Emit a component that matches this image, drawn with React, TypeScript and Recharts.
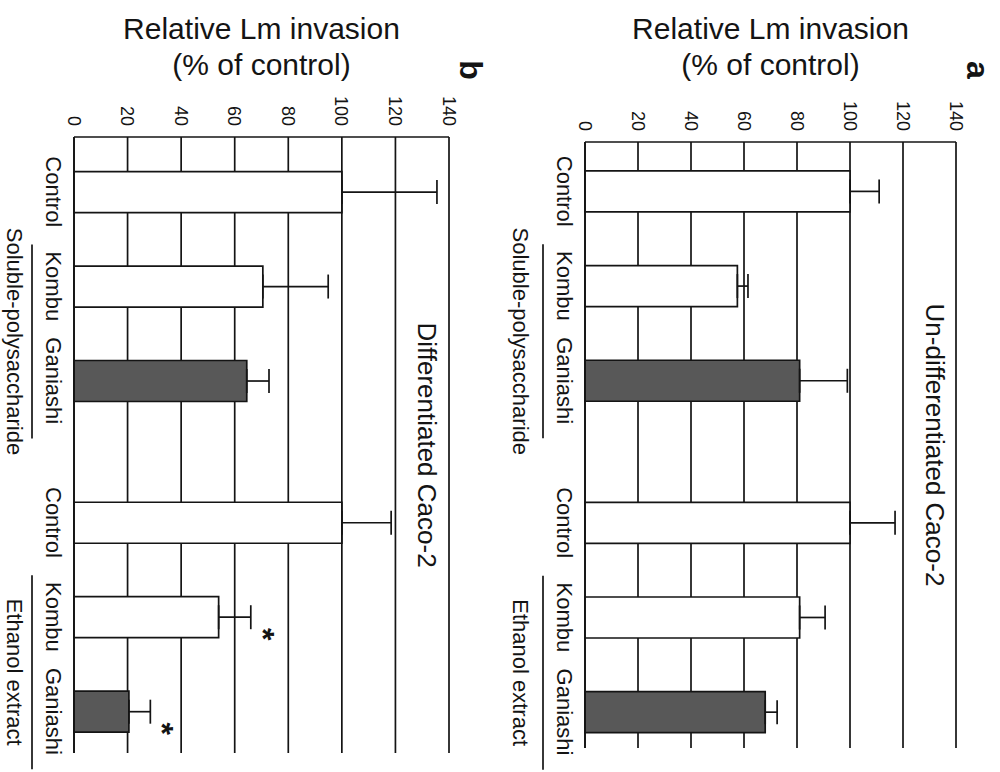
import React from 'react';
import {
  BarChart,
  Bar,
  XAxis,
  YAxis,
  CartesianGrid,
  ErrorBar,
  Cell,
  LabelList,
  ReferenceLine,
} from 'recharts';

const groups = ['Soluble-polysaccharide', 'Ethanol extract'];
const treatments = ['Control', 'Kombu', 'Ganiashi'];

// values (% of control), one per bar, left to right
const undiffMeans = [100, 57.5, 81, 100, 81, 68];
const undiffErrors = [11, 4, 18, 17, 9.6, 4.5];
const undiffSig = ['', '', '', '', '', ''];

const diffMeans = [100, 70.5, 64.5, 100, 54, 20.5];
const diffErrors = [35.5, 24.4, 8.3, 18.4, 12, 8];
const diffSig = ['', '', '', '', '*', '*'];

const valueTicks = [0, 20, 40, 60, 80, 100, 120, 140];

const FONT = '"Liberation Sans", Arial, Helvetica, sans-serif';
const INK = '#141414';
const GROUP_GAP = 0.5;

function buildRows(means: number[], errors: number[], sig: string[]) {
  return means.map((m, i) => {
    const g = Math.floor(i / treatments.length);
    const t = i % treatments.length;
    return {
      x: g * (treatments.length + GROUP_GAP) + t,
      name: treatments[t],
      mean: m,
      err: [0, errors[i]],
      errTop: errors[i],
      sig: sig[i],
    };
  });
}

const undiffRows = buildRows(undiffMeans, undiffErrors, undiffSig);
const diffRows = buildRows(diffMeans, diffErrors, diffSig);

// centre of the Kombu/Ganiashi pair in each group
const groupXs = groups.map((_, g) => g * (treatments.length + GROUP_GAP) + 1.5);

interface PanelProps {
  rows: ReturnType<typeof buildRows>;
  title: string;
  letter: string;
  top: number;
  right: number;
  yWidth: number;
  groupHeight: number;
  groupLabelDy: number;
  xDomain: [number, number];
}

function Panel({ rows, title, letter, top, right, yWidth, groupHeight, groupLabelDy, xDomain }: PanelProps) {
  const CategoryTick = (props: any) => {
    const { x, y, payload } = props;
    const row = rows.find((r) => r.x === payload.value);
    return (
      <text x={x} y={y + 21} textAnchor="middle" dominantBaseline="central" fontSize={22} fontFamily={FONT} fill={INK}>
        {row ? row.name : ''}
      </text>
    );
  };

  const GroupTick = (props: any) => {
    const { x, y, payload } = props;
    const gi = groupXs.indexOf(payload.value);
    return (
      <g>
        <line x1={x + 8 - 97} x2={x + 8 + 97} y1={y + 10} y2={y + 10} stroke={INK} strokeWidth={1.7} />
        <text x={x + 8} y={y + groupLabelDy} textAnchor="middle" dominantBaseline="central" fontSize={22} fontFamily={FONT} fill={INK}>
          {groups[gi]}
        </text>
      </g>
    );
  };

  const renderAxisTitle = (props: any) => {
    const vb = props.viewBox;
    const cy = vb.y + vb.height / 2;
    return (
      <g fontFamily={FONT} fill={INK}>
        <text x={vb.x + 28} y={cy} transform={`rotate(-90, ${vb.x + 28}, ${cy})`} textAnchor="middle" dominantBaseline="central" fontSize={30}>
          Relative Lm invasion
        </text>
        <text x={vb.x + 64} y={cy} transform={`rotate(-90, ${vb.x + 64}, ${cy})`} textAnchor="middle" dominantBaseline="central" fontSize={30}>
          (% of control)
        </text>
        <text x={vb.x + 70} y={vb.y - 22} textAnchor="middle" dominantBaseline="central" fontSize={32} fontWeight="bold">
          {letter}
        </text>
      </g>
    );
  };

  const renderStar = (props: any) => {
    const { index, value } = props;
    if (!value) return null;
    const vb = props.viewBox || props;
    const row = rows[index];
    const pxPerUnit = vb.height / row.mean;
    const cx = vb.x + vb.width / 2 + 17;
    const cy = vb.y - row.errTop * pxPerUnit - 14;
    return (
      <text x={cx} y={cy + 13} textAnchor="middle" fontSize={32} fontFamily={FONT} fill={INK} fontWeight="bold">
        {value}
      </text>
    );
  };

  return (
    <BarChart width={772} height={500} data={rows} margin={{ top, right, bottom: 0, left: 0 }}>
      <CartesianGrid vertical={false} stroke={INK} strokeWidth={1.7} />
      <XAxis
        xAxisId="cat"
        type="number"
        dataKey="x"
        domain={xDomain}
        ticks={rows.map((r) => r.x)}
        interval={0}
        height={32}
        tickSize={0}
        tickMargin={0}
        tickLine={false}
        axisLine={{ stroke: INK, strokeWidth: 1.7 }}
        tick={CategoryTick}
      />
      <XAxis
        xAxisId="grp"
        type="number"
        dataKey="x"
        domain={xDomain}
        ticks={groupXs}
        interval={0}
        height={groupHeight}
        tickSize={0}
        tickMargin={0}
        tickLine={false}
        axisLine={false}
        tick={GroupTick}
      />
      <YAxis
        type="number"
        domain={[0, 140]}
        ticks={valueTicks}
        interval={0}
        width={yWidth}
        tickSize={0}
        tickMargin={11}
        tickLine={false}
        axisLine={{ stroke: INK, strokeWidth: 1.7 }}
        tick={{ fontSize: 18, fill: INK, fontFamily: FONT }}
        label={{ content: renderAxisTitle }}
      />
      <ReferenceLine
        xAxisId="cat"
        y={132}
        stroke="none"
        ifOverflow="visible"
        label={{ value: title, position: 'center', fontSize: 26, fill: INK, fontFamily: FONT }}
      />
      <Bar xAxisId="cat" dataKey="mean" barSize={41} stroke={INK} strokeWidth={1.7} isAnimationActive={false}>
        {rows.map((r, i) => (
          <Cell key={i} fill={r.name === 'Ganiashi' ? '#585858' : '#ffffff'} />
        ))}
        <ErrorBar dataKey="err" width={12} stroke={INK} strokeWidth={1.7} direction="y" />
        <LabelList dataKey="sig" content={renderStar} />
      </Bar>
    </BarChart>
  );
}

export default function App() {
  return (
    <div style={{ position: 'fixed', left: 0, top: 0, width: 1000, height: 772, overflow: 'hidden', background: '#fff' }}>
      <div
        style={{
          position: 'absolute',
          left: 0,
          top: 0,
          width: 772,
          height: 1000,
          transformOrigin: '0 0',
          transform: 'translate(1000px, 0) rotate(90deg)',
        }}
      >
        <Panel
          rows={undiffRows}
          title="Un-differentiated Caco-2"
          letter="a"
          top={44}
          right={24}
          yWidth={142}
          groupHeight={53}
          groupLabelDy={33}
          xDomain={[-0.52, 5.88]}
        />
        <Panel
          rows={diffRows}
          title="Differentiated Caco-2"
          letter="b"
          top={51}
          right={19}
          yWidth={137}
          groupHeight={42}
          groupLabelDy={28}
          xDomain={[-0.58, 5.94]}
        />
      </div>
    </div>
  );
}
